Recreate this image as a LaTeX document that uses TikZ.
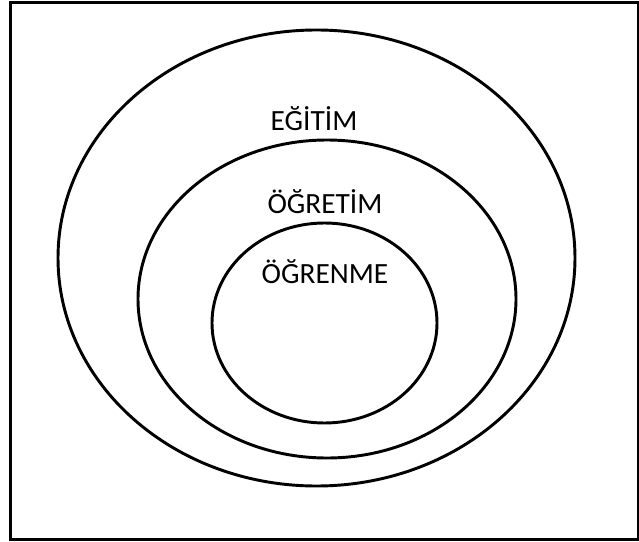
\documentclass[tikz,border=0pt]{standalone}
\usepackage{fontspec}
\setmainfont{Carlito}
\begin{document}
\begin{tikzpicture}[x=0.75pt,y=-0.75pt,
  ring/.style={draw=black,line width=2.2pt},
  label/.style={anchor=base,font=\fontsize{22}{26}\selectfont,inner sep=0pt}]
\useasboundingbox (0,0) rectangle (639,542);
\fill[white] (0,0) rectangle (639,542);
% frame
\draw[line width=2.2pt] (10.5,2.5) rectangle (638,539.5);
% nested ellipses
\draw[ring] (316.5,258) ellipse [x radius=258.5, y radius=228];
\draw[ring] (327,299) ellipse [x radius=189, y radius=159];
\draw[ring] (324.5,323) ellipse [x radius=112.5, y radius=100];
% labels
\node[label] (egitim) at (314,130) {EĞİTİM};
\node[label] (ogretim) at (325,213) {ÖĞRETİM};
\node[label] (ogrenme) at (325,283) {ÖĞRENME};
\end{tikzpicture}
\end{document}
